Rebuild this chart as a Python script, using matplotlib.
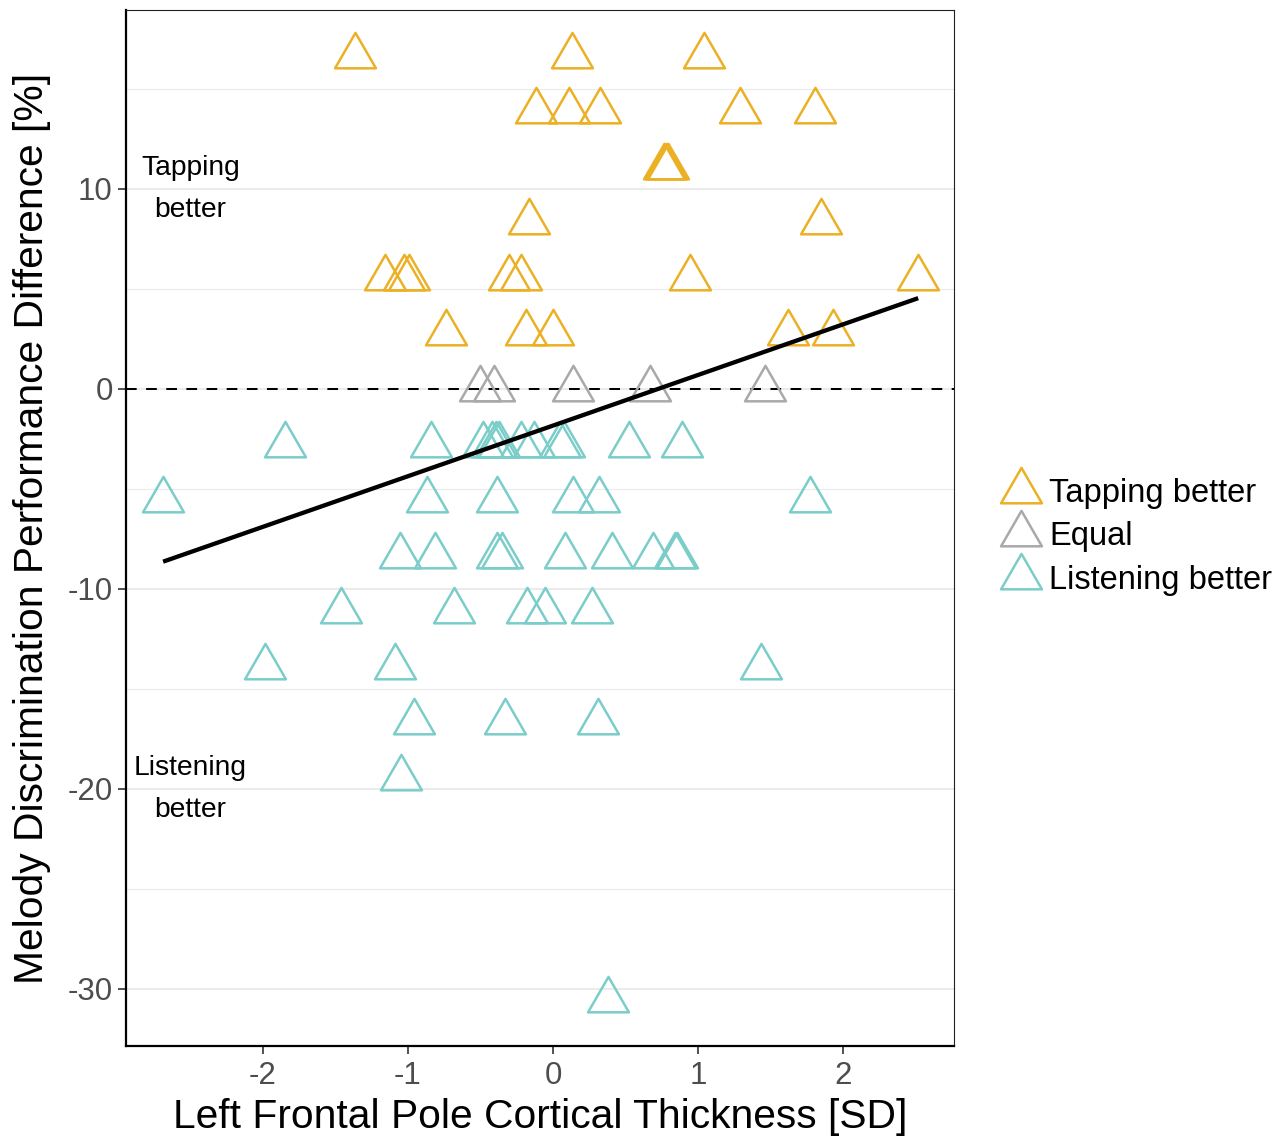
import numpy as np
import matplotlib
matplotlib.use("Agg")
import matplotlib.pyplot as plt
from matplotlib.path import Path
from matplotlib.markers import MarkerStyle
from matplotlib.lines import Line2D

plt.rcParams['font.family'] = ['Liberation Sans', 'DejaVu Sans']

# ---------------- data ----------------
tapping_x = [-1.366, 0.131, 1.039,
             -0.12, 0.11, 0.326, 1.288, 1.807,
             0.765, 0.78, 0.79,
             -0.167, 1.846,
             -1.158, -1.026, -0.99, -0.306, -0.222, 0.948, 2.519,
             -0.741, -0.186, -0.003, 1.624, 1.934]
tapping_y = [16.67, 16.67, 16.67,
             13.89, 13.89, 13.89, 13.89, 13.89,
             11.11, 11.11, 11.11,
             8.33, 8.33,
             5.56, 5.56, 5.56, 5.56, 5.56, 5.56, 5.56,
             2.78, 2.78, 2.78, 2.78, 2.78]

equal_x = [-0.503, -0.405, 0.136, 0.666, 1.459]
equal_y = [0.0, 0.0, 0.0, 0.0, 0.0]

listening_x = [-1.848, -0.843, -0.48, -0.418, -0.395, -0.375, -0.221, -0.129, 0.048, 0.078, 0.526, 0.888,
               -2.689, -0.867, -0.389, 0.14, 0.319, 1.773,
               -1.052, -0.814, -0.389, -0.354, 0.083, 0.409, 0.692, 0.841, 0.857,
               -1.465, -0.683, -0.178, -0.057, 0.268,
               -1.987, -1.092, 1.434,
               -0.96, -0.332, 0.308,
               -1.048,
               0.38]
listening_y = [-2.78, -2.78, -2.78, -2.78, -2.78, -2.78, -2.78, -2.78, -2.78, -2.78, -2.78, -2.78,
               -5.56, -5.56, -5.56, -5.56, -5.56, -5.56,
               -8.33, -8.33, -8.33, -8.33, -8.33, -8.33, -8.33, -8.33, -8.33,
               -11.11, -11.11, -11.11, -11.11, -11.11,
               -13.89, -13.89, -13.89,
               -16.67, -16.67, -16.67,
               -19.44,
               -30.56]

# linear fit (slope, intercept)
fit_slope = 2.53
fit_intercept = -1.83

group_labels = ["Tapping better", "Equal", "Listening better"]
group_colors = ["#EBB024", "#A9A9A9", "#7ACDC9"]

x_ticks = [-2, -1, 0, 1, 2]
y_ticks = [-30, -20, -10, 0, 10]
y_minor = [-25, -15, -5, 5, 15]

# ---------------- figure ----------------
W, H = 1287, 1137
fig = plt.figure(figsize=(W / 100, H / 100), dpi=100)
ax = fig.add_axes([126 / W, 1 - 1046 / H, (954 - 126) / W, (1046 - 10) / H])

# triangle marker with centroid at origin (like R pch 2)
tri = Path([(0, 1.555), (-1.347, -0.778), (1.347, -0.778), (0, 1.555)],
           [Path.MOVETO, Path.LINETO, Path.LINETO, Path.CLOSEPOLY])
mk = MarkerStyle(tri, joinstyle='miter')

# grid
for v in y_ticks:
    ax.axhline(v, color="#EBEBEB", lw=1.5, zorder=0)
for v in y_minor:
    ax.axhline(v, color="#EBEBEB", lw=0.8, zorder=0)

ax.axhline(0, color="black", lw=1.45, ls=(0, (5.3, 4.7)), zorder=1)

ms, mew = 34, 1.8
groups = [(tapping_x, tapping_y), (equal_x, equal_y), (listening_x, listening_y)]
for (gx, gy), lab, col in zip(groups, group_labels, group_colors):
    ax.plot(gx, gy, linestyle='none', marker=mk, markersize=ms, markerfacecolor='none',
            markeredgecolor=col, markeredgewidth=mew, zorder=2)

# regression line over the data range
all_x = np.array(tapping_x + equal_x + listening_x)
xs = np.array([all_x.min(), all_x.max()])
ax.plot(xs, fit_intercept + fit_slope * xs, color="black", lw=3.1, solid_capstyle='butt', zorder=3)

# annotations
ax.text(-2.5, 10, "Tapping\nbetter", ha='center', va='center', fontsize=20.3,
        linespacing=1.8, color='black')
ax.text(-2.5, -20, "Listening\nbetter", ha='center', va='center', fontsize=20.3,
        linespacing=1.8, color='black')

ax.set_xlim(-2.945, 2.766)
ax.set_ylim(-32.85, 18.95)
ax.set_xticks(x_ticks)
ax.set_xticklabels([str(t) for t in x_ticks])
ax.set_yticks(y_ticks)
ax.set_yticklabels([str(t) for t in y_ticks])
ax.tick_params(axis='both', labelsize=22.5, colors="#333333", labelcolor="#4D4D4D",
               length=5.5, width=1.2)
ax.tick_params(axis='x', pad=5)
ax.tick_params(axis='y', pad=4)

for s in ['left', 'bottom']:
    ax.spines[s].set_linewidth(1.6)
    ax.spines[s].set_color('black')
for s in ['top', 'right']:
    ax.spines[s].set_linewidth(0.8)
    ax.spines[s].set_color('#222222')

ax.set_xlabel("Left Frontal Pole Cortical Thickness [SD]", fontsize=29.3, labelpad=5)
ax.set_ylabel("Melody Discrimination Performance Difference [%]", fontsize=29.3, labelpad=12)

handles = [Line2D([], [], linestyle='none', marker=mk, markersize=ms, markerfacecolor='none',
                  markeredgecolor=c, markeredgewidth=mew) for c in group_colors]
fig.legend(handles, group_labels, loc='center left', bbox_to_anchor=(1001 / W, 1 - 537 / H),
           frameon=False, fontsize=23.5, handlelength=1.2, handletextpad=0.28,
           labelspacing=0.38, borderpad=0, borderaxespad=0)

fig.savefig("out.png", dpi=100)
